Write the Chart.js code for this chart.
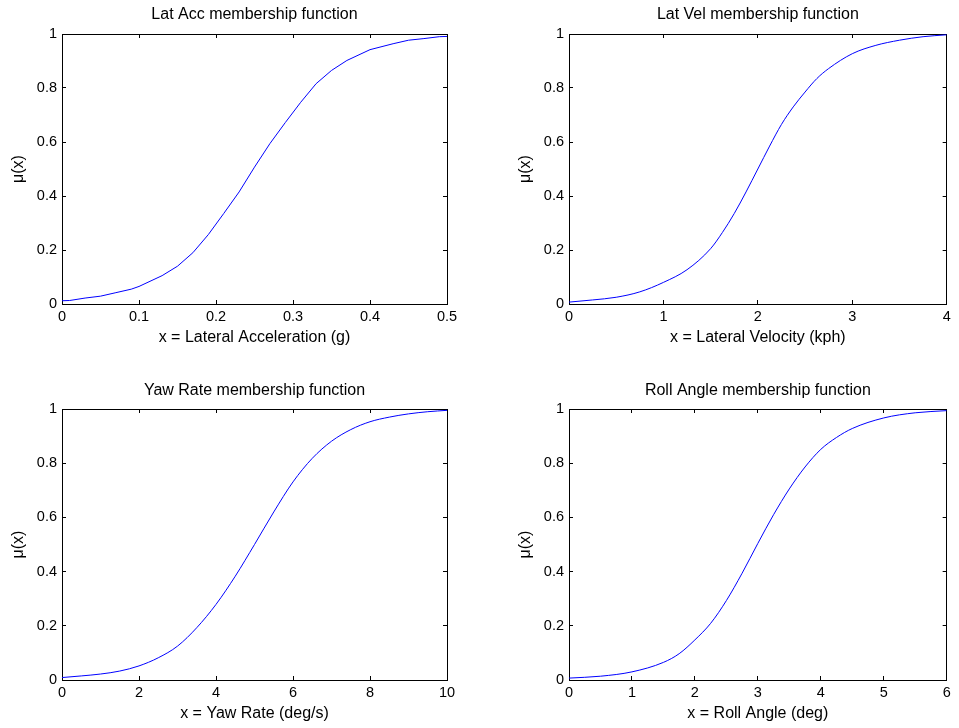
<!DOCTYPE html>
<html>
<head>
<meta charset="utf-8">
<script src="https://cdn.jsdelivr.net/npm/chart.js@4.4.1/dist/chart.umd.min.js"></script>
<style>
  html, body { margin: 0; padding: 0; background: #fff; overflow: hidden; }
  .panel { position: absolute; }
</style>
</head>
<body>
<div class="panel" style="left:0;top:0"><canvas id="c1" width="480" height="364"></canvas></div>
<div class="panel" style="left:507px;top:0"><canvas id="c2" width="452" height="364"></canvas></div>
<div class="panel" style="left:0;top:364px"><canvas id="c3" width="480" height="364"></canvas></div>
<div class="panel" style="left:507px;top:364px"><canvas id="c4" width="452" height="364"></canvas></div>
<script>
// Lat Acc membership function
const latAccX = [0, 0.01, 0.03, 0.05, 0.07, 0.09, 0.1, 0.13, 0.15, 0.17, 0.19, 0.21, 0.23, 0.25,
  0.27, 0.29, 0.31, 0.33, 0.35, 0.37, 0.4, 0.43, 0.45, 0.47, 0.49, 0.5];
const latAccY = [0.012, 0.013, 0.022, 0.029, 0.042, 0.055, 0.065, 0.105, 0.14, 0.19, 0.257, 0.335, 0.415, 0.507,
  0.594, 0.672, 0.747, 0.816, 0.865, 0.902, 0.942, 0.964, 0.977, 0.983, 0.99, 0.991];

// Lat Vel membership function
const latVelX = [0, 0.25, 0.5, 0.75, 1, 1.25, 1.5, 1.625, 1.75, 1.875, 2, 2.125, 2.25, 2.375, 2.5,
  2.625, 2.75, 3, 3.25, 3.5, 3.75, 4];
const latVelY = [0.007, 0.015, 0.025, 0.045, 0.08, 0.127, 0.205, 0.265, 0.335, 0.415, 0.5, 0.585, 0.665, 0.73, 0.785,
  0.835, 0.872, 0.927, 0.958, 0.977, 0.99, 0.997];

// Yaw Rate membership function
const yawRateX = [0, 0.5, 1, 1.5, 2, 2.5, 3, 3.5, 4, 4.5, 5, 5.5, 6, 6.5, 7, 7.5, 8, 8.5, 9, 9.5, 10];
const yawRateY = [0.009, 0.015, 0.022, 0.033, 0.052, 0.082, 0.125, 0.193, 0.279, 0.383, 0.5, 0.62, 0.731, 0.818,
  0.881, 0.924, 0.953, 0.97, 0.982, 0.99, 0.995];

// Roll Angle membership function
const rollAngleX = [0, 0.5, 1, 1.5, 1.75, 2, 2.25, 2.5, 2.75, 3, 3.25, 3.5, 3.75, 4, 4.25, 4.5, 5, 5.5, 6];
const rollAngleY = [0.007, 0.014, 0.03, 0.065, 0.097, 0.148, 0.209, 0.293, 0.394, 0.504, 0.61, 0.705, 0.786, 0.851,
  0.895, 0.928, 0.967, 0.986, 0.994];

// tick values
const yTicks = [0, 0.2, 0.4, 0.6, 0.8, 1];
const latAccTicks = [0, 0.1, 0.2, 0.3, 0.4, 0.5];
const latVelTicks = [0, 1, 2, 3, 4];
const yawRateTicks = [0, 2, 4, 6, 8, 10];
const rollAngleTicks = [0, 1, 2, 3, 4, 5, 6];

const FONT = "'Liberation Sans', Arial, Helvetica, sans-serif";
Chart.defaults.color = '#000';
Chart.defaults.font.family = FONT;

const toPoints = (xs, ys) => xs.map((x, i) => ({ x: x, y: ys[i] }));

/**
 * Build one MATLAB-style subplot
 */
function makeChart(id, cfg) {
  const setTicks = vals => axis => { axis.ticks = vals.map(v => ({ value: v })); };
  const edge = { display: true, color: '#000', width: 1 };
  const inward = { drawOnChartArea: false, drawTicks: true, tickLength: -4, color: '#000', lineWidth: 1 };

  return new Chart(document.getElementById(id), {
    type: 'line',
    data: {
      datasets: [{
        data: toPoints(cfg.xs, cfg.ys),
        borderColor: '#0000ff',
        borderWidth: 1,
        pointRadius: 0,
        tension: cfg.smooth ? 0.4 : 0,
        cubicInterpolationMode: cfg.smooth ? 'monotone' : 'default',
        fill: false
      }]
    },
    options: {
      responsive: false,
      animation: false,
      events: [],
      layout: { padding: { left: 0, top: 0, bottom: 0, right: cfg.padRight } },
      plugins: {
        legend: { display: false },
        tooltip: { enabled: false },
        title: {
          display: true,
          text: cfg.title,
          fullSize: false,
          color: '#000',
          font: { size: 16, weight: 'normal', family: FONT },
          padding: cfg.titlePad
        }
      },
      scales: {
        x: {
          type: 'linear',
          position: 'bottom',
          min: cfg.xTicks[0],
          max: cfg.xTicks[cfg.xTicks.length - 1],
          afterBuildTicks: setTicks(cfg.xTicks),
          afterFit: s => { s.height = cfg.xHeight; },
          grid: inward,
          border: edge,
          ticks: {
            autoSkip: false, maxRotation: 0, padding: 8.3,
            font: { size: 14.5 },
            callback: v => String(v)
          },
          title: {
            display: true, text: cfg.xLabel,
            font: { size: 16 },
            padding: { top: 0, bottom: cfg.xLabelPad }
          }
        },
        x2: {
          type: 'linear',
          position: 'top',
          min: cfg.xTicks[0],
          max: cfg.xTicks[cfg.xTicks.length - 1],
          afterBuildTicks: setTicks(cfg.xTicks),
          afterFit: s => { s.height = 0; },
          grid: inward,
          border: edge,
          ticks: { display: false }
        },
        y: {
          type: 'linear',
          position: 'left',
          min: 0,
          max: 1,
          afterBuildTicks: setTicks(yTicks),
          afterFit: s => { s.width = 62; },
          grid: inward,
          border: edge,
          ticks: { padding: 9, font: { size: 14.5 }, callback: v => String(v) },
          title: {
            display: true, text: 'μ(x)',
            font: { size: 16 },
            padding: { top: 8.9, bottom: 0 }
          }
        },
        y2: {
          type: 'linear',
          position: 'right',
          min: 0,
          max: 1,
          afterBuildTicks: setTicks(yTicks),
          afterFit: s => { s.width = 0; },
          grid: inward,
          border: edge,
          ticks: { display: false }
        }
      }
    }
  });
}

const topRow = { titlePad: { top: 5.4, bottom: 9.4 }, xHeight: 60, xLabelPad: 16.4 };
const bottomRow = { titlePad: { top: 17.1, bottom: 8.7 }, xHeight: 48, xLabelPad: 4.4 };

makeChart('c1', Object.assign({
  title: 'Lat Acc membership function', xLabel: 'x = Lateral Acceleration (g)',
  xs: latAccX, ys: latAccY, xTicks: latAccTicks, smooth: false, padRight: 33
}, topRow));

makeChart('c2', Object.assign({
  title: 'Lat Vel membership function', xLabel: 'x = Lateral Velocity (kph)',
  xs: latVelX, ys: latVelY, xTicks: latVelTicks, smooth: true, padRight: 5
}, topRow));

makeChart('c3', Object.assign({
  title: 'Yaw Rate membership function', xLabel: 'x = Yaw Rate (deg/s)',
  xs: yawRateX, ys: yawRateY, xTicks: yawRateTicks, smooth: true, padRight: 33
}, bottomRow));

makeChart('c4', Object.assign({
  title: 'Roll Angle membership function', xLabel: 'x = Roll Angle (deg)',
  xs: rollAngleX, ys: rollAngleY, xTicks: rollAngleTicks, smooth: true, padRight: 5
}, bottomRow));
</script>
</body>
</html>
